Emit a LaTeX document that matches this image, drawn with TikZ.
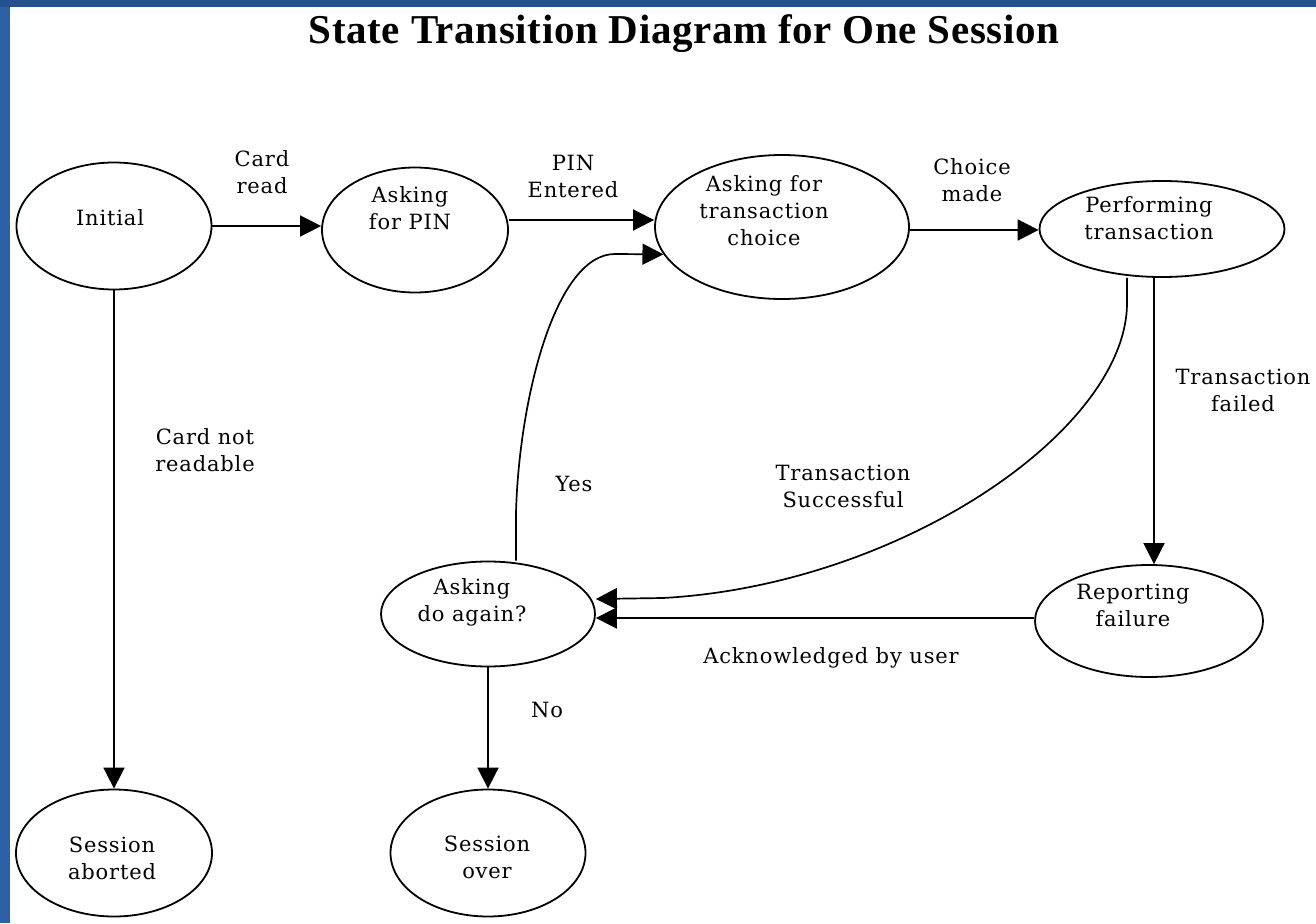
\documentclass[tikz,border=0pt]{standalone}
\usepackage{fontspec}
\setmainfont{DejaVu Serif}[LetterSpace=4]
\newfontfamily\titlefont{Liberation Serif}[LetterSpace=1.5]
\usetikzlibrary{arrows.meta,shapes.geometric}
\definecolor{frametop}{RGB}{36,82,142}
\definecolor{frameleft}{RGB}{46,96,166}
\begin{document}
\begin{tikzpicture}[x=1pt,y=-1pt,
  st/.style={draw, ellipse, line width=1.8pt, inner sep=0pt},
  txt/.style={align=center, font=\fontsize{21}{27}\selectfont, inner sep=0pt},
  lab/.style={align=center, font=\fontsize{21}{27}\selectfont, inner sep=0pt},
  arr/.style={line width=1.7pt, -{Triangle[length=21pt,width=21pt]}},
]
% background frame
\fill[frametop] (0,0) rectangle (1316,923);
\fill[frameleft] (0,7) rectangle (10,923);
\fill[white] (10,7) rectangle (1316,923);
\useasboundingbox (0,0) rectangle (1316,923);

% title
\node[font=\titlefont\bfseries\fontsize{41}{48}\selectfont, anchor=base, inner sep=0pt] (title) at (684,44) {State Transition Diagram for One Session};

% states
\node[st, minimum width=195pt, minimum height=127pt] (init) at (114,226) {};
\node[txt] (initT) at (110,218) {Initial};

\node[st, minimum width=186pt, minimum height=125pt] (pin) at (415,230) {};
\node[txt] (pinT) at (410,208) {Asking\\for PIN};

\node[st, minimum width=254pt, minimum height=144pt] (tran) at (782,227) {};
\node[txt] (tranT) at (764,211) {Asking for\\transaction\\choice};

\node[st, minimum width=245pt, minimum height=96pt] (perf) at (1162,229) {};
\node[txt] (perfT) at (1149,218) {Performing\\transaction};

\node[st, minimum width=228pt, minimum height=112pt] (fail) at (1149,621) {};
\node[txt] (failT) at (1133,605) {Reporting\\failure};

\node[st, minimum width=214pt, minimum height=105pt] (again) at (488,614) {};
\node[txt] (againT) at (472,602) {Asking\\do again?};

\node[st, minimum width=196pt, minimum height=127pt] (abort) at (114,853) {};
\node[txt] (abortT) at (112,858) {Session\\aborted};

\node[st, minimum width=195pt, minimum height=127pt] (over) at (488,853) {};
\node[txt] (overT) at (487,857) {Session\\over};

% transitions
\draw[arr] (init.east) -- (init.east -| pin.west);
\node[lab] (l1) at (262,172) {Card\\read};

\draw[arr] ([yshift=10pt]pin.east) -- ([yshift=10pt]pin.east -| tran.west);
\node[lab] (l2) at (573,176) {PIN\\Entered};

\draw[arr] ([yshift=-3pt]tran.east) -- ([yshift=-3pt]tran.east -| perf.west);
\node[lab] (l3) at (972,180) {Choice\\made};

\draw[arr] (init.south) -- (abort.north);
\node[lab] (l4) at (205,450) {Card not\\readable};

\draw[arr] ([xshift=-8pt]perf.south) -- ([xshift=-8pt]perf.south |- fail.north);
\node[lab] (l5) at (1243,390) {Transaction\\failed};

\draw[arr] ([xshift=-35pt]perf.south) -- ++(0,25)
  .. controls (1127,430) and (900,585) .. (663,598)
  -- ([yshift=15pt]again.east);
\node[lab] (l6) at (843,486) {Transaction\\Successful};

\draw[arr] ([yshift=3pt]fail.west) -- ([yshift=3pt]fail.west -| again.east);
\node[lab] (l7) at (831,658) {Acknowledged by user};

\draw[arr] ([xshift=28pt]again.north) -- ++(0,-48)
  .. controls (519,400) and (555,254) .. (615,254)
  -- (tran.193);
\node[lab] (l8) at (574,484) {Yes};

\draw[arr] (again.south) -- (over.north);
\node[lab] (l9) at (547,710) {No};
\end{tikzpicture}
\end{document}
